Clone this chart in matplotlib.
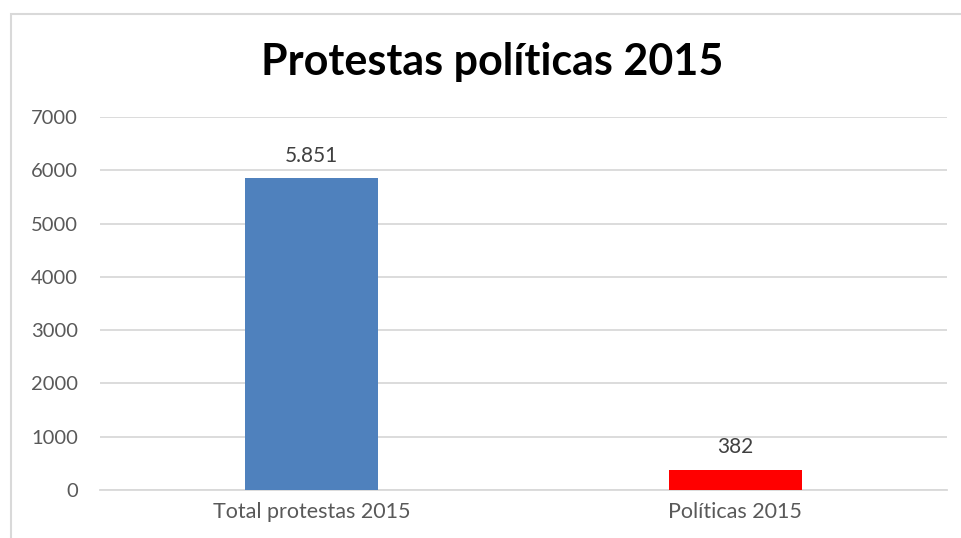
import numpy as np
import matplotlib.pyplot as plt
from matplotlib.patches import Rectangle

# data
categories = ['Total protestas 2015', 'Políticas 2015']
values = [5851, 382]
value_labels = ['5.851', '382']
bar_colors = ['#4F81BD', '#FF0000']
yticks = [0, 1000, 2000, 3000, 4000, 5000, 6000, 7000]

plt.rcParams['font.family'] = ['Lato', 'DejaVu Sans']

W, H = 962, 538
fig = plt.figure(figsize=(W / 100, H / 100), dpi=100)

# chart border (only left and top visible in the crop)
fig.patches.append(Rectangle((11 / W, -0.1), 1.2, 1 - 14 / H + 0.1,
                             transform=fig.transFigure, fill=False,
                             edgecolor='#D9D9D9', linewidth=1.5))

ax = fig.add_axes([100 / W, 1 - 490 / H, (947 - 100) / W, (490 - 117) / H])

x = np.arange(len(categories))
ax.bar(x, values, width=0.315, color=bar_colors, zorder=3)

for xi, v, lab in zip(x, values, value_labels):
    ax.annotate(lab, (xi, v), xytext=(0, 9), textcoords='offset points',
                ha='center', va='bottom', fontsize=15, color='#404040')

ax.set_xlim(-0.5, 1.5)
ax.set_ylim(0, 7000)
ax.set_yticks(yticks)
ax.set_yticklabels([str(t) for t in yticks])
ax.set_xticks(x)
ax.set_xticklabels(categories)
ax.tick_params(axis='y', length=0, pad=16, labelsize=14.5, labelcolor='#595959')
ax.tick_params(axis='x', length=0, pad=9, labelsize=15.5, labelcolor='#595959')

ax.grid(axis='y', color='#D9D9D9', linewidth=1.3, zorder=0)
for s in ['top', 'right', 'left']:
    ax.spines[s].set_visible(False)
ax.spines['bottom'].set_color('#D9D9D9')
ax.spines['bottom'].set_linewidth(1.3)

fig.text(492 / W, 1 - 62 / H, 'Protestas políticas 2015', ha='center', va='center',
         fontsize=31, fontweight='bold', color='black')

fig.savefig('out.png', dpi=100)
